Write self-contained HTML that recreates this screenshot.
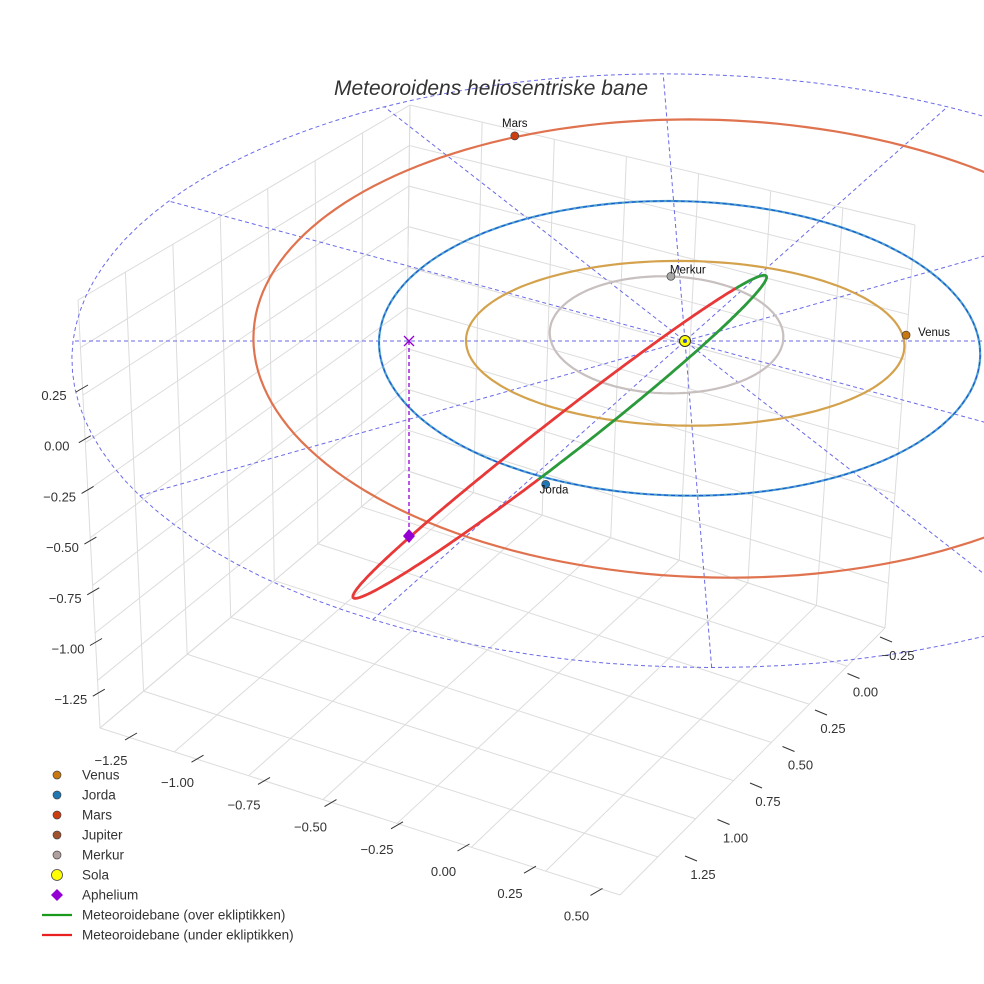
<!DOCTYPE html>
<html><head><meta charset="utf-8">
<style>
html,body{margin:0;padding:0;background:#fff;}
svg{display:block;font-family:"Liberation Sans",sans-serif;}
</style></head>
<body>
<svg id="chart" width="984" height="984" viewBox="0 0 984 984" xmlns="http://www.w3.org/2000/svg">
<rect width="984" height="984" fill="#fff"/>
<g id="grid"></g>
<g id="plot"></g>
<g id="axes"></g>
<text x="491" y="95" text-anchor="middle" font-size="21" font-style="italic" fill="#333">Meteoroidens heliosentriske bane</text>
<g id="legend"></g>
</svg>
<script>
// ---- data ----
const planetNames = ["Merkur","Venus","Jorda","Mars"];
const planetA = [0.39,0.73,1.0,1.52];
const planetB = [0.40,0.56,1.0,1.56];
const planetCx = [-0.06,0.0,-0.02,0.08];
const planetCy = [-0.05,0.0,0.0,-0.07];
const planetColors = ["#c8bfbf","#d4a24c","#4a9fd0","#e0734f"];
const planetPosX = [-0.03,0.74,-0.48,-0.55];
const planetPosY = [-0.45,-0.04,0.93,-1.5];
const planetDot = ["#a8a8a8","#c8780f","#1f77b4","#cc3d10"];
const refCircleR = 2.04;
const radialAngles = [0,30,60,90,120,150];
const meteorPeri = [0.29,-0.36,0.05];
const meteorAph = [-1.1,0.41,-0.75];
const meteorMinor = [0.035,0.09,-0.01];
const meteorNodes = [-29,100];
const aphelionXYZ = [-0.92,0.0,-0.75];
const xTicks = ["−1.25","−1.00","−0.75","−0.50","−0.25","0.00","0.25","0.50"];
const yTicks = ["−0.25","0.00","0.25","0.50","0.75","1.00","1.25"];
const zTicks = ["0.25","0.00","−0.25","−0.50","−0.75","−1.00","−1.25"];
const legendLabels = ["Venus","Jorda","Mars","Jupiter","Merkur","Sola","Aphelium","Meteoroidebane (over ekliptikken)","Meteoroidebane (under ekliptikken)"];
const legendColors = ["#c8780f","#1f77b4","#cc3d10","#a0522d","#b0a0a0","#ffff00","#9400d3","#1a9a1a","#e82020"];

// ---- projection ----
const SX=685, SY=341, KX=300, KY=147, KZ=260, P=0.05;
function px(X,Y,Z){const f=1/(1-P*Y);return SX+KX*(X+0.04*Y)*f;}
function py(X,Y,Z){const f=1/(1-P*Y);return SY+KY*Y*f-KZ*(Z||0);}

const NS="http://www.w3.org/2000/svg";
function mk(tag,attrs,parent){const e=document.createElementNS(NS,tag);for(const k in attrs)e.setAttribute(k,attrs[k]);parent.appendChild(e);return e;}
const grid=document.getElementById('grid'),plot=document.getElementById('plot'),axes=document.getElementById('axes'),legend=document.getElementById('legend');

// ---- box grid ----
function lerp(a,b,t){return [a[0]+(b[0]-a[0])*t,a[1]+(b[1]-a[1])*t];}
function quad(A,B,C,D,n,m){
  for(let i=0;i<=n;i++){const p=lerp(A,B,i/n),q=lerp(D,C,i/n);mk('line',{x1:p[0],y1:p[1],x2:q[0],y2:q[1],stroke:'#dcdcdc','stroke-width':1},grid);}
  for(let j=0;j<=m;j++){const p=lerp(A,D,j/m),q=lerp(B,C,j/m);mk('line',{x1:p[0],y1:p[1],x2:q[0],y2:q[1],stroke:'#dcdcdc','stroke-width':1},grid);}
}
const A=[100,728],B=[620,895],C=[885,628],D=[405,470],At=[78,300],Dt=[410,105],Ct=[915,225];
quad(A,B,C,D,7,7);
quad(A,D,Dt,At,7,9);
quad(D,C,Ct,Dt,7,9);

function pathFromPts(pts){return 'M'+pts.map(p=>p[0].toFixed(1)+','+p[1].toFixed(1)).join('L');}
{const pts=[];for(let a=0;a<=360;a+=3){const r=a*Math.PI/180;const X=refCircleR*Math.cos(r),Y=refCircleR*Math.sin(r)*0.98;pts.push([px(X,Y),py(X,Y)]);}
 const e=mk('path',{d:pathFromPts(pts),fill:'none',stroke:'#6a6ae8','stroke-width':1,'stroke-dasharray':'4,3'},plot);
 }
radialAngles.forEach(a=>{const r=a*Math.PI/180;const X=refCircleR*Math.cos(r),Y=refCircleR*Math.sin(r)*0.98;
 const e=mk('line',{x1:px(X,Y),y1:py(X,Y),x2:px(-X,-Y),y2:py(-X,-Y),stroke:'#6a6ae8','stroke-width':1,'stroke-dasharray':'4,3'},plot);
 });

// ---- planet orbits ----
planetNames.forEach((n,i)=>{const pts=[];for(let a=0;a<=360;a+=2){const r=a*Math.PI/180;const X=planetCx[i]+planetA[i]*Math.cos(r),Y=planetCy[i]+planetB[i]*Math.sin(r);pts.push([px(X,Y),py(X,Y)]);}
 const e=mk('path',{d:pathFromPts(pts),fill:'none',stroke:planetColors[i],'stroke-width':2.2},plot);
 
 if(n==="Jorda"){const d=mk('path',{d:pathFromPts(pts),fill:'none',stroke:'#1a4fd0','stroke-width':1,'stroke-dasharray':'4,3'},plot);
  }
});

// ---- meteoroid orbit ----
{const Cc=[0,1,2].map(k=>(meteorPeri[k]+meteorAph[k])/2),U=[0,1,2].map(k=>(meteorPeri[k]-meteorAph[k])/2);
 function pt(t){const r=t*Math.PI/180;const v=[0,1,2].map(k=>Cc[k]+U[k]*Math.cos(r)+meteorMinor[k]*Math.sin(r));return [px(v[0],v[1],v[2]),py(v[0],v[1],v[2])];}
 const g=[],rd=[];for(let t=meteorNodes[0];t<=meteorNodes[1];t+=1)g.push(pt(t));
 for(let t=meteorNodes[1];t<=meteorNodes[0]+360;t+=1)rd.push(pt(t));
 const e1=mk('path',{d:pathFromPts(rd),fill:'none',stroke:'#e83838','stroke-width':2.8},plot);
 
 const e2=mk('path',{d:pathFromPts(g),fill:'none',stroke:'#2a9a3a','stroke-width':2.8},plot);
 }

// ---- aphelion ----
{const X=aphelionXYZ[0],Y=aphelionXYZ[1],Z=aphelionXYZ[2];const x0=px(X,Y),y0=py(X,Y,0),y1=py(X,Y,Z);
 const l=mk('line',{x1:x0,y1:y0,x2:x0,y2:y1,stroke:'#9400d3','stroke-width':1.3,'stroke-dasharray':'4,3'},plot);
 
 const c=mk('path',{d:`M${x0-5},${y0-5}L${x0+5},${y0+5}M${x0-5},${y0+5}L${x0+5},${y0-5}`,stroke:'#9400d3','stroke-width':1.3},plot);
 
 const d=mk('path',{d:`M${x0},${y1-7}L${x0+6},${y1}L${x0},${y1+7}L${x0-6},${y1}Z`,fill:'#9400d3'},plot);
 }

// ---- planets & sun ----
planetNames.forEach((n,i)=>{const x=px(planetPosX[i],planetPosY[i]),y=py(planetPosX[i],planetPosY[i]);
 const c=mk('circle',{cx:x,cy:y,r:4,fill:planetDot[i],stroke:'#444','stroke-width':0.7},plot);
 
 let tx=x,ty=y-9,anc='middle';if(n==="Venus"){tx=x+12;ty=y+1;anc='start';}if(n==="Merkur"){tx=x-1;ty=y-3;anc='start';}if(n==="Jorda"){tx=x-6;ty=y+9;anc='start';}
 const t=mk('text',{x:tx,y:ty,'font-size':11.5,fill:'#111','text-anchor':anc},plot);t.textContent=n;
 });
{const s=mk('circle',{cx:SX,cy:SY,r:5.5,fill:'#ffff00',stroke:'#333','stroke-width':1},plot);
 
 const s2=mk('circle',{cx:SX,cy:SY,r:2,fill:'#3050c0'},plot);}

// ---- axes ticks ----
function tickSet(labels,x0,y0,dx,dy,tdx,tdy,lx,ly,name){labels.forEach((s,i)=>{const x=x0+dx*i,y=y0+dy*i;
 const l=mk('line',{x1:x,y1:y,x2:x+tdx,y2:y+tdy,stroke:'#333','stroke-width':1},axes);
 const t=mk('text',{x:x+lx,y:y+ly,'font-size':13,fill:'#333','text-anchor':'middle'},axes);t.textContent=s;});}
tickSet(xTicks,125,740,66.5,22.2,12,-7,-14,25,'x-axis');
tickSet(yTicks,880,637,-32.5,36.5,12,5,18,23,'y-axis');
tickSet(zTicks,76,392,2.8,50.7,12,-7,-22,8,'z-axis');

// ---- legend ----
legendLabels.forEach((s,i)=>{const y=775+i*20;let m;
 if(i===5){m=mk('circle',{cx:57,cy:y,r:5.5,fill:legendColors[i],stroke:'#444','stroke-width':0.8},legend);}
 else if(i===6){m=mk('path',{d:`M57,${y-6}L63,${y}L57,${y+6}L51,${y}Z`,fill:legendColors[i]},legend);}
 else if(i>=7){m=mk('line',{x1:42,y1:y,x2:72,y2:y,stroke:legendColors[i],'stroke-width':2.2},legend);}
 else{m=mk('circle',{cx:57,cy:y,r:4,fill:legendColors[i],stroke:'#444','stroke-width':0.7},legend);}
 
 const t=mk('text',{x:82,y:y+4.5,'font-size':13.5,fill:'#333'},legend);t.textContent=s;
 });
</script>
</body></html>
